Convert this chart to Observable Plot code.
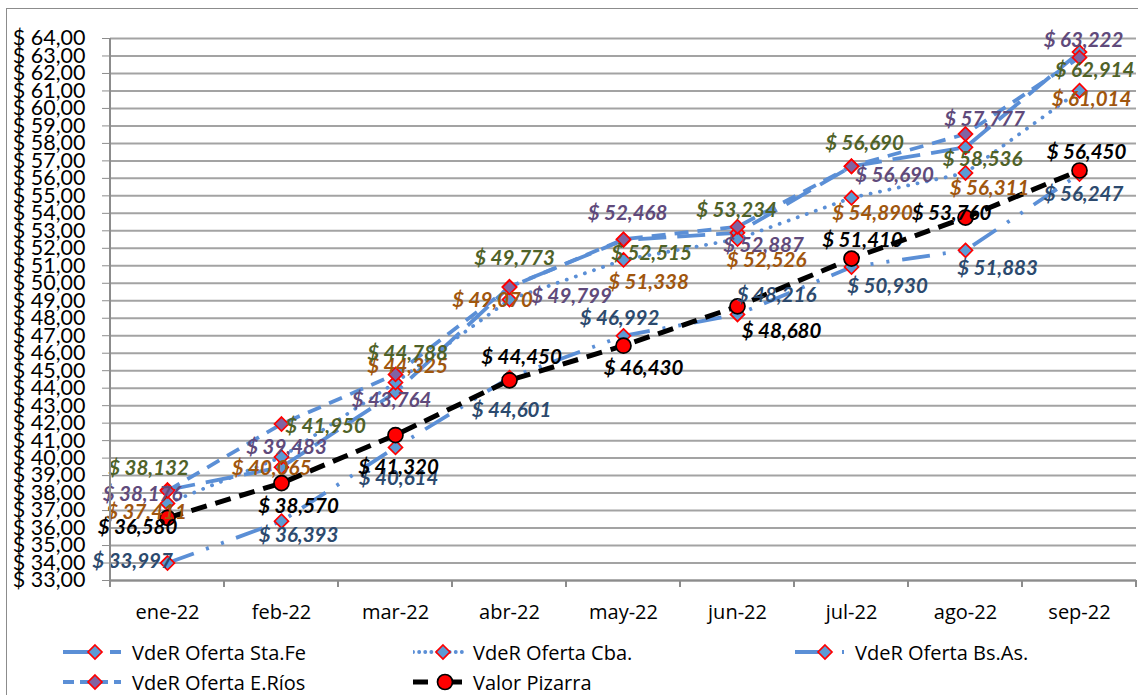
<!DOCTYPE html>
<html><head><meta charset="utf-8">
<script src="https://cdn.jsdelivr.net/npm/d3@7"></script>
<script src="https://cdn.jsdelivr.net/npm/@observablehq/plot@0.6"></script>
<style>
body{margin:0;background:#fff;}
#wrap{position:relative;width:1138px;height:695px;overflow:hidden;font-family:Lato,"Liberation Sans",sans-serif;background:#fff;}
#border{position:absolute;left:6px;top:8px;width:1160px;height:720px;border:1.5px solid #8c8c8c;box-sizing:border-box;}
#chart{position:absolute;left:0;top:0;}
.leg{position:absolute;display:flex;align-items:center;font-family:"Open Sans",sans-serif;font-weight:400;font-size:20px;color:#000;height:24px;white-space:nowrap;}
.leg svg{display:block;margin-right:5px;}
</style></head><body>
<div id="wrap"><div id="border"></div><div id="chart"></div></div>
<script>
// ---- data ----
const months = ["ene-22","feb-22","mar-22","abr-22","may-22","jun-22","jul-22","ago-22","sep-22"];
const staFe   = [38.176, 39.483, 43.764, 49.799, 52.468, 52.887, 56.690, 57.777, 63.222];
const cba     = [37.411, 40.065, 44.325, 49.070, 51.338, 52.526, 54.890, 56.311, 61.014];
const bsAs    = [33.997, 36.393, 40.614, 44.601, 46.992, 48.216, 50.930, 51.883, 56.247];
const eRios   = [38.132, 41.950, 44.788, 49.773, 52.515, 53.234, 56.690, 58.536, 62.914];
const pizarra = [36.580, 38.570, 41.320, 44.450, 46.430, 48.680, 51.410, 53.760, 56.450];
const seriesNames = ["VdeR Oferta Sta.Fe","VdeR Oferta Cba.","VdeR Oferta Bs.As.","VdeR Oferta E.Ríos","Valor Pizarra"];
const yTicks = d3.range(33, 65);

// ---- label nudges (px, relative to each point) ----
const labelNudge = [
  [[-25,4],[5,-20],[-4,8],[62,10],[4,-27],[26,13],[43,9],[19,-28],[4,-12]],
  [[-21,9],[-10,11],[12,-16],[-17,1],[25,23],[29,21],[21,16],[24,16],[12,9]],
  [[-35,-2],[17,14],[3,31],[2,33],[-4,-17],[39,-19],[36,19],[32,18],[4,20]],
  [[-19,-22],[44,2],[12,-21],[5,-29],[28,14],[-1,-16],[13,-23],[17,25],[15,13]],
  [[-30,10],[17,23],[3,32],[12,-23],[20,23],[44,25],[11,-18],[-14,-4],[7,-18]]
];

// ---- styles ----
const lineBlue = "#5b8fd6";
const styles = [
  {stroke: lineBlue, width: 3.8, dash: "28 11", cap: "butt", symbol: "diamond2", r: 6.3, fill: "#5b9bd5", mstroke: "#ff0000", label: "#604a7b"},
  {stroke: lineBlue, width: 3.8, dash: "0.1 9.5", cap: "round", symbol: "diamond2", r: 6.3, fill: "#5b9bd5", mstroke: "#ff0000", label: "#a0560e"},
  {stroke: lineBlue, width: 3.8, dash: "28 13 3 13 3 13", cap: "butt", symbol: "diamond2", r: 6.3, fill: "#5b9bd5", mstroke: "#ff0000", label: "#2c4a6e"},
  {stroke: lineBlue, width: 3.8, dash: "14 9", cap: "butt", symbol: "diamond2", r: 6.3, fill: "#8064a2", mstroke: "#ff0000", label: "#4f6228"},
  {stroke: "#000000", width: 5, dash: "16 9", cap: "butt", symbol: "circle", r: 7.5, fill: "#ff0000", mstroke: "#000000", label: "#000000"}
];

const allValues = [staFe, cba, bsAs, eRios, pizarra];
const fmtLabel = v => "$ " + v.toFixed(3).replace(".", ",");
const fmtTick = v => "$ " + v.toFixed(2).replace(".", ",");

const seriesRows = allValues.map((vals, si) => vals.map((v, i) => ({series: seriesNames[si], month: months[i], value: v, si, i})));

const marks = [
  Plot.ruleY(yTicks, {stroke: "#a3a3a3", strokeWidth: 2}),
  Plot.ruleY([33], {stroke: "#8c8c8c", strokeWidth: 2}),
  Plot.axisY({ticks: yTicks, tickFormat: fmtTick, tickSize: 8, tickPadding: 17, fontSize: 21.5, stroke: "#8c8c8c", fill: "#000", label: null}),
  Plot.axisX({tickSize: 0, tickPadding: 24, fontSize: 20, fontFamily: "Open Sans, sans-serif", fill: "#000", label: null})
];
seriesRows.forEach((rows, si) => {
  const s = styles[si];
  marks.push(Plot.line(rows, {x: "month", y: "value", stroke: s.stroke, strokeWidth: s.width, strokeDasharray: s.dash, strokeLinecap: s.cap, strokeLinejoin: "round"}));
  marks.push(Plot.dot(rows, {x: "month", y: "value", symbol: s.symbol, r: s.r, fill: s.fill, stroke: s.mstroke, strokeWidth: 1.7}));
});
seriesRows.forEach((rows, si) => {
  rows.forEach(d => {
    const [dx, dy] = labelNudge[si][d.i];
    marks.push(Plot.text([d], {x: "month", y: "value", text: r => fmtLabel(r.value), dx, dy,
      fill: styles[si].label, fontSize: 20.5, fontWeight: "bold", fontStyle: "italic", textAnchor: "middle", lineAnchor: "middle"}));
  });
});

const plot = Plot.plot({
  width: 1138,
  height: 632,
  marginLeft: 110,
  marginRight: 2,
  marginTop: 38,
  marginBottom: 52,
  style: {fontFamily: "Lato, 'Liberation Sans', sans-serif", background: "transparent", overflow: "visible"},
  x: {type: "point", domain: months, padding: 0.5},
  y: {domain: [33, 64], nice: false},
  marks
});

// axis line + category boundary ticks from the scales
const xs = plot.scale("x"), ys = plot.scale("y");
const step = xs.apply(months[1]) - xs.apply(months[0]);
const x0 = xs.apply(months[0]) - step / 2;
const yBottom = ys.apply(33), yTop = ys.apply(64);
const g = d3.select(plot).append("g").attr("stroke", "#8c8c8c").attr("stroke-width", 2);
g.append("line").attr("x1", x0).attr("x2", x0).attr("y1", yTop).attr("y2", yBottom);
d3.range(months.length + 1).forEach(k => {
  const xp = x0 + k * step;
  g.append("line").attr("x1", xp).attr("x2", xp).attr("y1", yBottom).attr("y2", yBottom + 7);
});
document.getElementById("chart").appendChild(plot);

// ---- legend ----
const legendItems = [
  {si: 0, left: 63, top: 640, w: 64, mx: 32, dash: "32 15 17"},
  {si: 1, left: 413, top: 640, w: 55, mx: 30, dash: "0.1 6"},
  {si: 2, left: 795, top: 640, w: 55, mx: 30, dash: "30 17 2 20"},
  {si: 3, left: 63, top: 670, w: 64, mx: 32, dash: "11 6"},
  {si: 4, left: 413, top: 670, w: 55, mx: 32, dash: "15 19 20"}
];
const wrap = document.getElementById("wrap");
legendItems.forEach(it => {
  const s = styles[it.si];
  const div = document.createElement("div");
  div.className = "leg";
  div.style.left = it.left + "px";
  div.style.top = it.top + "px";
  const sv = d3.create("svg").attr("width", it.w).attr("height", 24);
  sv.append("line").attr("x1", 0).attr("x2", it.w - 6).attr("y1", 12).attr("y2", 12)
    .attr("stroke", s.stroke).attr("stroke-width", s.width).attr("stroke-dasharray", it.dash).attr("stroke-linecap", s.cap);
  const sym = d3.symbol(s.symbol === "circle" ? d3.symbolCircle : d3.symbolDiamond2, Math.PI * s.r * s.r)();
  sv.append("path").attr("d", sym).attr("transform", `translate(${it.mx},12)`)
    .attr("fill", s.fill).attr("stroke", s.mstroke).attr("stroke-width", 1.7);
  div.appendChild(sv.node());
  const span = document.createElement("span");
  span.textContent = seriesNames[it.si];
  div.appendChild(span);
  wrap.appendChild(div);
});
</script>
</body></html>
